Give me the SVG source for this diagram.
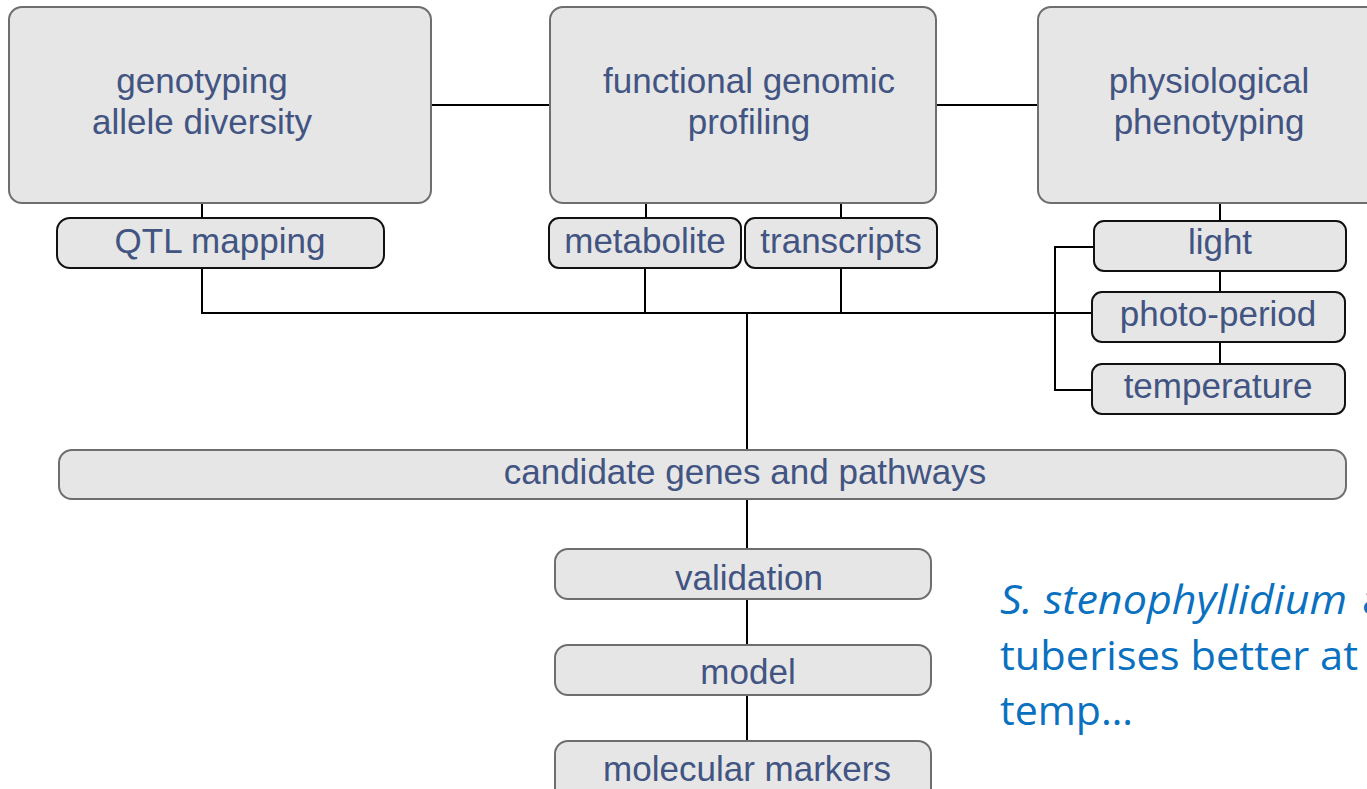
<svg xmlns="http://www.w3.org/2000/svg" width="1367" height="789" viewBox="0 0 1367 789">
<style>
.big{fill:#e6e6e6;stroke:#6e6e6e;stroke-width:2}
.sm{fill:#e6e6e6;stroke:#111;stroke-width:2}
.gr{fill:#e6e6e6;stroke:#6e6e6e;stroke-width:2}
.t{font-family:"Liberation Sans",Arial,sans-serif;font-size:35px;fill:#425482;text-anchor:middle}
.c{fill:none;stroke:#000;stroke-width:2}
.b{font-family:"Open Sans","Noto Sans",sans-serif;font-size:41px;fill:#0a70c0}
</style>
<rect width="1367" height="789" fill="#fff"/>
<g id="connectors">
<path class="c" d="M431 105H550M936 105H1038"/>
<path class="c" d="M202 203V218M202 268V313H1093"/>
<path class="c" d="M646 203V218M645 268V313M841 203V218M841 268V313"/>
<path class="c" d="M747 313V450"/>
<path class="c" d="M1220 203V221M1220 271V292M1220 342V364"/>
<path class="c" d="M1094 247H1055V390H1092"/>
<path class="c" d="M747 499V549M747 599V645M747 695V741"/>
</g>
<g id="genotyping"><rect class="big" x="9" y="7" width="422" height="196" rx="13"/><text class="t" x="202" y="93">genotyping</text><text class="t" x="202" y="134">allele diversity</text></g>
<g id="functional"><rect class="big" x="550" y="7" width="386" height="196" rx="13"/><text class="t" x="749" y="93">functional genomic</text><text class="t" x="749" y="134">profiling</text></g>
<g id="physiological"><rect class="big" x="1038" y="7" width="345" height="196" rx="13"/><text class="t" x="1209" y="93">physiological</text><text class="t" x="1209" y="134">phenotyping</text></g>
<g id="qtl"><rect class="sm" x="57" y="218" width="327" height="50" rx="13"/><text class="t" x="220" y="253">QTL mapping</text></g>
<g id="metabolite"><rect class="sm" x="549" y="218" width="192" height="50" rx="10"/><text class="t" x="645" y="253">metabolite</text></g>
<g id="transcripts"><rect class="sm" x="745" y="218" width="192" height="50" rx="10"/><text class="t" x="841" y="253">transcripts</text></g>
<g id="light"><rect class="sm" x="1094" y="221" width="252" height="50" rx="10"/><text class="t" x="1220" y="254">light</text></g>
<g id="photoperiod"><rect class="sm" x="1092" y="292" width="253" height="50" rx="10"/><text class="t" x="1218" y="326">photo-period</text></g>
<g id="temperature"><rect class="sm" x="1092" y="364" width="253" height="50" rx="10"/><text class="t" x="1218" y="398">temperature</text></g>
<g id="candidate"><rect class="gr" x="59" y="450" width="1287" height="49" rx="13"/><text class="t" x="745" y="484">candidate genes and pathways</text></g>
<g id="validation"><rect class="gr" x="555" y="549" width="376" height="50" rx="13"/><text class="t" x="749" y="590">validation</text></g>
<g id="model"><rect class="gr" x="555" y="645" width="376" height="50" rx="13"/><text class="t" x="748" y="684">model</text></g>
<g id="markers"><rect class="gr" x="555" y="741" width="376" height="70" rx="13"/><text class="t" x="747" y="781">molecular markers</text></g>
<g id="note">
<text class="b" x="1000" y="614"><tspan font-style="italic" textLength="347" lengthAdjust="spacingAndGlyphs">S. stenophyllidium</tspan><tspan x="1362">a</tspan></text>
<text class="b" x="1000" y="670" textLength="358" lengthAdjust="spacingAndGlyphs">tuberises better at</text>
<text class="b" x="1000" y="725" textLength="133" lengthAdjust="spacingAndGlyphs">temp…</text>
</g>
</svg>
